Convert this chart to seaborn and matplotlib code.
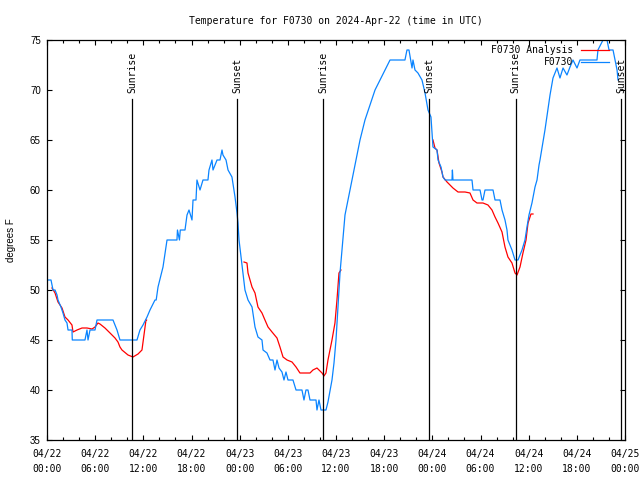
import numpy as np
import pandas as pd
import matplotlib
matplotlib.use("Agg")
import matplotlib.pyplot as plt
import matplotlib.dates as mdates
import seaborn as sns

# ---------------- data ----------------
start_time = "2024-04-22 00:00"

# observed F0730 (hours since start, deg F)
obs_hours = [0, 0.5, 0.75, 1.0, 1.25, 1.37, 1.74, 1.99, 2.24, 2.49, 2.62, 3.11, 3.15, 4.73, 4.98, 5.11,
             5.36, 5.98, 6.23, 8.22, 8.47, 8.72, 9.09, 11.21, 11.58, 11.96, 12.46, 12.83, 13.45, 13.6,
             13.83, 14.45, 14.95, 16.19, 16.25, 16.5, 16.6, 17.19, 17.44, 17.69, 18.06, 18.19, 18.56,
             18.68, 19.06, 19.43, 20.05, 20.18, 20.55, 20.68, 21.18, 21.55, 21.80, 21.92, 22.30, 22.55,
             23.04, 23.42, 23.67, 23.79, 23.92, 24.41, 24.66, 25.04, 25.54, 25.91, 26.28, 26.78, 26.91,
             27.40, 27.78, 28.15, 28.40, 28.65, 28.90, 29.27, 29.52, 29.77, 30.02, 30.64, 31.02, 31.76,
             32.01, 32.26, 32.51, 32.76, 33.51, 33.63, 33.88, 34.13, 34.75, 35.00, 35.50, 35.75, 36.00,
             36.25, 36.50, 37.12, 37.74, 38.37, 38.99, 39.61, 40.23, 40.86, 41.48, 42.10, 42.73, 44.59,
             44.84, 45.09, 45.47, 45.59, 45.84, 46.21, 46.71, 47.09, 47.46, 47.83, 47.96, 48.08, 48.58,
             48.71, 49.08, 49.33, 49.58, 50.45, 50.5, 50.57, 52.94, 53.07, 53.94, 54.19, 54.31, 54.56,
             55.56, 55.81, 56.43, 56.68, 57.05, 57.30, 57.42, 57.92, 58.30, 58.67, 59.17, 59.54, 59.79,
             60.04, 60.41, 60.79, 61.04, 61.29, 61.41, 62.03, 62.66, 63.03, 63.53, 63.90, 64.28, 64.77,
             65.15, 65.52, 66.02, 66.39, 68.51, 68.63, 69.26, 69.76, 70.01, 70.51, 70.76, 71.01, 71.13]
obs_temp = [51, 51, 50, 50, 49.5, 49, 48.3, 47.7, 47, 46.7, 46, 46, 45, 45, 46, 45,
            46, 46, 47, 47, 46.5, 46, 45, 45, 46, 46.5, 47.3, 48, 49, 49,
            50.3, 52.3, 55, 55, 56, 55, 56, 56, 57.5, 58, 57, 59, 59,
            61, 60, 61, 61, 62, 63, 62, 63, 63, 64, 63.5, 63, 62,
            61.3, 59.3, 57.7, 56.7, 55, 51.7, 50, 49, 48.3, 46.3, 45.3, 45, 44,
            43.7, 43, 43, 42, 43, 42.2, 41.8, 41, 41.8, 41, 41, 40, 40,
            39, 40, 40, 39, 39, 38, 39, 38, 38, 38.8, 41, 42.7, 45,
            48.3, 51.7, 57.5, 60, 62.5, 65, 67, 68.5, 70, 71, 72, 73, 73,
            74, 74, 72.2, 73, 72, 71.7, 71, 69.7, 68, 67.3, 65.7, 64.3, 64,
            63, 62.3, 61.3, 61, 61, 62, 61, 61, 60, 60, 59, 59, 60,
            60, 59, 59, 58, 57, 56, 55, 54, 53, 53, 54, 55, 56.3,
            57.5, 58.7, 60.3, 61, 62.5, 63, 66, 69.5, 71.2, 72.2, 71.2, 72.2, 71.5,
            72.3, 73, 72.2, 73, 73, 74, 75, 75, 74, 74, 73, 72, 71]

# F0730 analysis (hours since start, deg F, segment id)
ana_hours = [0.62, 1.0, 1.37, 1.87, 2.24, 2.62, 3.11, 3.24, 3.74, 4.36, 4.98, 5.61, 5.98, 6.35,
             6.60, 7.22, 7.85, 8.47, 8.84, 9.09, 9.34, 10.09, 10.71, 11.34, 11.83, 12.33, 12.4,
             24.54, 24.91, 25.04, 25.54, 25.91, 26.28, 26.78, 27.15, 27.53, 28.03, 28.65, 29.02,
             29.40, 29.90, 30.52, 31.02, 31.51, 32.14, 32.76, 33.13, 33.63, 34.26, 34.50, 34.75,
             35.00, 35.50, 35.87, 36.12, 36.37, 36.62,
             48.08, 48.33, 48.58, 48.83, 49.20, 49.33, 49.83, 50.20, 50.57, 51.20, 52.07, 52.69,
             53.07, 53.56, 54.31, 54.93, 55.43, 55.81, 56.18, 56.68, 57.05, 57.42, 57.92, 58.30,
             58.55, 58.92, 59.29, 59.67, 59.92, 60.29, 60.54]
ana_temp = [50.2, 49.7, 48.8, 48.2, 47.3, 47, 46.5, 45.8, 46, 46.2, 46.2, 46.1, 46.3, 46.7,
            46.6, 46.2, 45.7, 45.2, 44.8, 44.3, 44, 43.5, 43.3, 43.6, 44, 47, 47,
            52.8, 52.7, 51.7, 50.3, 49.7, 48.3, 47.7, 47, 46.3, 45.8, 45.2, 44.3,
            43.3, 43, 42.8, 42.3, 41.7, 41.7, 41.7, 42, 42.2, 41.7, 41.4, 41.7,
            43, 45, 46.7, 49, 51.7, 52,
            65, 64.2, 64, 62.7, 61.8, 61.3, 60.8, 60.5, 60.2, 59.8, 59.8, 59.7,
            59, 58.7, 58.7, 58.5, 58, 57.3, 56.7, 55.8, 54.3, 53.3, 52.7, 51.7,
            51.5, 52.3, 53.7, 55, 56.7, 57.6, 57.6]
ana_segment = [1] * 27 + [2] * 30 + [3] * 31

# sun events (hours since start)
sun_labels = ["Sunrise", "Sunset", "Sunrise", "Sunset", "Sunrise", "Sunset"]
sun_hours = [10.65, 23.67, 34.42, 47.62, 58.37, 71.5]

title_text = "Temperature for F0730 on 2024-Apr-22 (time in UTC)"
ylabel_text = "degrees F"
obs_name = "F0730"
ana_name = "F0730 Analysis"
y_limits = (35, 75)
y_ticks = [35, 40, 45, 50, 55, 60, 65, 70, 75]

# ---------------- build frames ----------------
t0 = pd.Timestamp(start_time)
obs = pd.DataFrame({"time": t0 + pd.to_timedelta(obs_hours, unit="h"), "temp": obs_temp})
ana = pd.DataFrame({"time": t0 + pd.to_timedelta(ana_hours, unit="h"), "temp": ana_temp,
                    "seg": ana_segment})
sun_times = t0 + pd.to_timedelta(sun_hours, unit="h")

# ---------------- style ----------------
mono = "DejaVu Sans Mono"
sans = "Liberation Sans"
BLUE = "#0a84ff"
RED = "#ff0000"

fig = plt.figure(figsize=(6.4, 4.8), dpi=100)
ax = fig.add_axes([47 / 640, 1 - 440 / 480, 578 / 640, 400 / 480])

sns.lineplot(data=ana, x="time", y="temp", units="seg", estimator=None, color=RED,
             linewidth=0.9, ax=ax, legend=False)
sns.lineplot(data=obs, x="time", y="temp", estimator=None, color=BLUE,
             linewidth=0.9, ax=ax, legend=False)

for t, lab in zip(sun_times, sun_labels):
    ax.axvline(t, ymin=0, ymax=0.8525, color="black", linewidth=0.9)
    ax.text(t, 0.868, lab, transform=ax.get_xaxis_transform(), rotation=90,
            ha="center", va="bottom", family=mono, fontsize=7)

ax.set_xlim(t0, t0 + pd.Timedelta(hours=72))
ax.set_ylim(*y_limits)
ax.set_yticks(y_ticks)
ax.xaxis.set_major_locator(mdates.HourLocator(byhour=range(0, 24, 6)))
ax.xaxis.set_minor_locator(mdates.HourLocator(byhour=range(0, 24, 2)))
ax.xaxis.set_major_formatter(mdates.DateFormatter("%m/%d\n%H:%M"))

ax.tick_params(axis="both", which="both", direction="in", top=True, right=True, colors="black")
ax.tick_params(axis="both", which="major", length=3.4, width=0.8)
ax.tick_params(axis="both", which="minor", length=2.2, width=0.8)
ax.tick_params(axis="x", which="major", pad=6.5)
ax.tick_params(axis="y", which="major", pad=4.5)
for lab in ax.get_xticklabels():
    lab.set_family(mono)
    lab.set_fontsize(7)
    lab.set_linespacing(1.6)
for lab in ax.get_yticklabels():
    lab.set_family(sans)
    lab.set_fontsize(7)

for s in ax.spines.values():
    s.set_color("black")
    s.set_linewidth(0.9)

ax.set_xlabel("")
ax.set_ylabel(ylabel_text, family=sans, fontsize=7, labelpad=10)
fig.text(336 / 640, 1 - 21 / 480, title_text, ha="center", va="center", family=mono, fontsize=7)

# legend (gnuplot style: label right-aligned, sample to the right)
for i, (name, col) in enumerate([(ana_name, RED), (obs_name, BLUE)]):
    yy = 0.976 - i * 0.031
    ax.text(0.910, yy, name, transform=ax.transAxes, ha="right", va="center",
            family=mono, fontsize=7)
    ax.plot([0.924, 0.972], [yy, yy], transform=ax.transAxes, color=col, linewidth=0.9)

ax.grid(False)
fig.savefig("out.png", dpi=100)
